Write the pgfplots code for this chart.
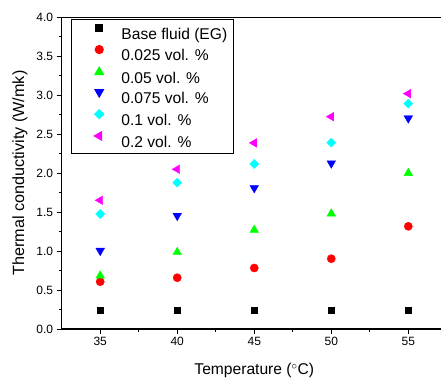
\documentclass[border=0pt]{standalone}
\usepackage{pgfplots}
\pgfplotsset{compat=1.18}
\usepackage{fontspec}
\setmainfont{Liberation Sans}
\definecolor{cB}{RGB}{0,0,0}
\definecolor{cR}{RGB}{255,0,0}
\definecolor{cG}{RGB}{0,255,0}
\definecolor{cBl}{RGB}{0,0,255}
\definecolor{cC}{RGB}{0,255,255}
\definecolor{cM}{RGB}{255,0,255}
\begin{document}
\begin{tikzpicture}
\begin{axis}[
  name=ax,
  at={(0,0)}, anchor=south west,
  scale only axis,
  width=385.1pt, height=311.7pt,
  xmin=32.5, xmax=57.5,
  ymin=0, ymax=4,
  xtick={35,40,45,50,55},
  minor xtick={37.5,42.5,47.5,52.5},
  ytick={0,0.5,...,4.0},
  minor ytick={0.25,0.75,...,3.75},
  xtick pos=bottom, ytick pos=left,
  tick align=outside,
  major tick length=5pt, minor tick length=3pt,
  every tick/.style={black, line width=0.8pt},
  axis line style={black, line width=1.1pt},
  /pgf/number format/assume math mode=true,
  ticklabel style={font=\fontsize{12}{14}\selectfont},
  yticklabel style={/pgf/number format/.cd, fixed, fixed zerofill, precision=1},
  xticklabel style={/pgf/number format/.cd, fixed, precision=0},
  xlabel={Temperature ($^{\circ}$C)},
  ylabel={Thermal conductivity (W/mk)},
  every axis x label/.style={at={(axis description cs:0.5,-0.1331)}, anchor=center, font=\fontsize{15.6}{18}\selectfont},
  every axis y label/.style={at={(axis description cs:-0.1083,0.5)}, anchor=center, rotate=90, font=\fontsize{16.2}{18}\selectfont},
  legend cell align=left,
  legend style={at={(0.024,0.994)}, anchor=north west, draw=black, line width=1pt,
    font=\fontsize{15.6}{18}\selectfont,
    inner xsep=6pt, inner ysep=5pt,
    row sep=4.7pt, column sep=15.7pt,
    nodes={inner sep=0pt, text height=12.8pt, text depth=1.6pt}},
  legend image code/.code={\path (-21.3pt,0pt) (6pt,0pt); \draw[#1] plot coordinates {(0pt,5.6pt)};},
  clip=false,
]
\addplot[only marks, mark=square*, mark size=3.3pt, color=cB] coordinates {
 (35,0.24) (40,0.24) (45,0.24) (50,0.24) (55,0.24)};
\addlegendentry{Base fluid (EG)}
\addplot[only marks, mark=*, mark size=4.1pt, color=cR] coordinates {
 (35,0.607) (40,0.658) (45,0.783) (50,0.902) (55,1.318)};
\addlegendentry{0.025 vol. \%}
\addplot[only marks, mark=triangle*, mark size=5pt, color=cG] coordinates {
 (35,0.684) (40,0.985) (45,1.27) (50,1.48) (55,2.0)};
\addlegendentry{0.05 vol. \%}
\addplot[only marks, mark=triangle*, mark size=5pt, color=cBl, mark options={rotate=180}] coordinates {
 (35,1.005) (40,1.454) (45,1.81) (50,2.127) (55,2.705)};
\addlegendentry{0.075 vol. \%}
\addplot[only marks, mark=square*, mark size=3.2pt, color=cC, mark options={rotate=45}] coordinates {
 (35,1.476) (40,1.878) (45,2.118) (50,2.392) (55,2.892)};
\addlegendentry{0.1 vol. \%}
\addplot[only marks, mark=triangle*, mark size=5pt, color=cM, mark options={rotate=90}] coordinates {
 (35,1.652) (40,2.05) (45,2.388) (50,2.725) (55,3.02)};
\addlegendentry{0.2 vol. \%}
\end{axis}
\pgfresetboundingbox
\path[use as bounding box] ([xshift=-61.7pt,yshift=-49pt]ax.south west) rectangle ([xshift=379.3pt,yshift=329pt]ax.south west);
\end{tikzpicture}
\end{document}
